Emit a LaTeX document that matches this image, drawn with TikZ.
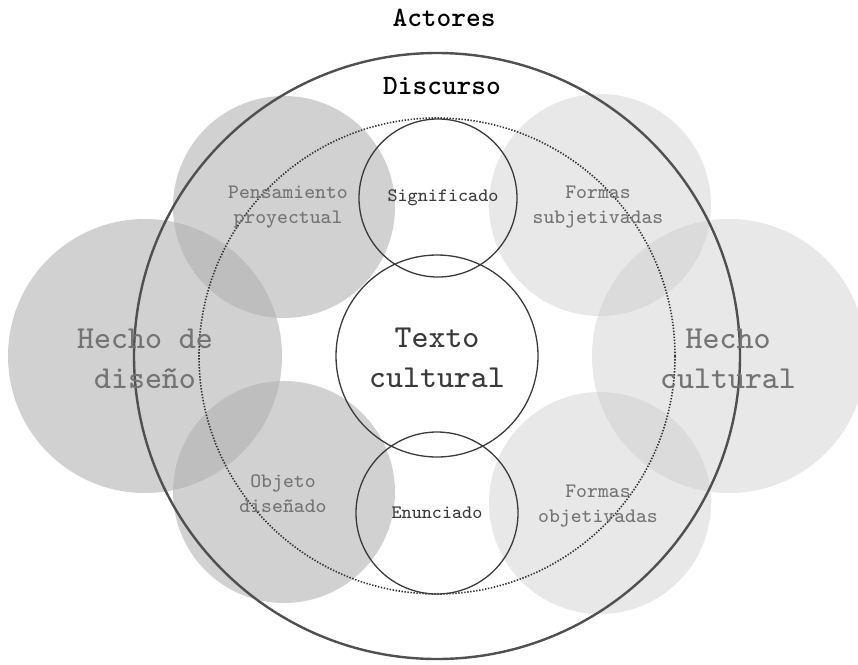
\documentclass[tikz,border=0pt]{standalone}
\usepackage{xcolor}
\usepackage{fontspec}
\setmonofont{lmmono8-regular}[Extension=.otf, BoldFont=lmmonolt10-bold]

\definecolor{ringgray}{HTML}{505050}
\definecolor{labelgray}{HTML}{737373}
\definecolor{innergray}{HTML}{3A3A3A}

\begin{document}
\begin{tikzpicture}[x=1pt,y=-1pt,
	shade circle/.style={circle, inner sep=0pt, minimum size=#1},
	dark circle/.style={shade circle=#1, fill=black!30, fill opacity=0.6},
	light circle/.style={shade circle=#1, fill=black!20, fill opacity=0.45},
	line circle/.style={draw=innergray, line width=1.3pt, circle, inner sep=0pt, minimum size=#1},
	big label/.style={align=center, font=\ttfamily\fontsize{32}{40}\selectfont},
	small label/.style={align=center, font=\ttfamily\fontsize{20.5}{25}\selectfont, text=labelgray},
	inner label/.style={align=center, font=\ttfamily\fontsize{19}{24}\selectfont, text=innergray},
	title label/.style={font=\ttfamily\bfseries\fontsize{28}{32}\selectfont},
]
	\useasboundingbox (0,0) rectangle (858,664);

	% grey circles
	\node[dark circle=222] (pensamiento) at (284,207) {};
	\node[dark circle=274] (diseno) at (145,356) {};
	\node[dark circle=222] (objeto) at (284,492) {};
	\node[light circle=222] (subjetivadas) at (600,205) {};
	\node[light circle=274] (cultural) at (729,356) {};
	\node[light circle=222] (objetivadas) at (600,503) {};

	% rings
	\node[draw=ringgray, line width=2.4pt, circle, inner sep=0pt, minimum size=606] (actores) at (437,356) {};
	\node[draw=black!80, line width=1.6pt, dash pattern=on 1.4pt off 1.6pt, circle, inner sep=0pt, minimum size=476] (discurso) at (437,356) {};
	\node[line circle=202] (texto) at (437,356) {};
	\node[line circle=158] (significado) at (438,198) {};
	\node[line circle=162] (enunciado) at (437,513) {};

	% labels
	\node[title label] (actores label) at (444,18) {Actores};
	\node[title label] (discurso label) at (442,86) {Discurso};
	\node[big label, text=labelgray] (diseno label) at (145,359) {Hecho de\\diseño};
	\node[big label, text=labelgray] (cultural label) at (728,359) {Hecho\\cultural};
	\node[big label, text=innergray] (texto label) at (437,358) {Texto\\cultural};
	\node[small label] (pensamiento label) at (288,207) {Pensamiento\\proyectual};
	\node[small label] (subjetivadas label) at (598,207) {Formas\\subjetivadas};
	\node[small label] (objeto label) at (283,494) {Objeto\\diseñado};
	\node[small label] (objetivadas label) at (598,506) {Formas\\objetivadas};
	\node[inner label] (significado label) at (443,198) {Significado};
	\node[inner label] (enunciado label) at (437,513) {Enunciado};
\end{tikzpicture}
\end{document}
